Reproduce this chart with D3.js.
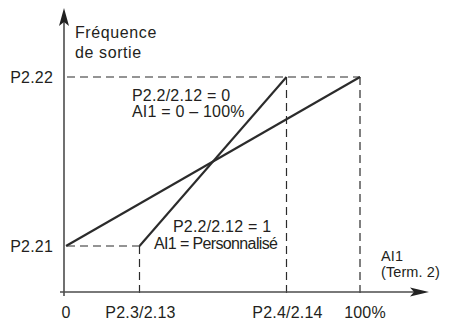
<!DOCTYPE html>
<html>
<head>
<meta charset="utf-8">
<script src="https://cdn.jsdelivr.net/npm/d3@7"></script>
<style>
  html, body { margin: 0; padding: 0; background: #fff; }
  svg { display: block; }
  text { font-family: "Liberation Sans", Arial, Helvetica, sans-serif; fill: #231f20; }
</style>
</head>
<body>
<svg id="chart" width="450" height="327"></svg>
<script>
// Input AI1 in percent; output frequency as percent of the P2.21..P2.22 span
const xTickValues = [0, 25, 75, 100];
const xTickLabels = ["0", "P2.3/2.13", "P2.4/2.14", "100%"];
const yTickValues = [0, 100];
const yTickLabels = ["P2.21", "P2.22"];

// P2.2/2.12 = 0 : AI1 = 0 – 100%
const curveStandard = [ { x: 0, y: 0 }, { x: 100, y: 100 } ];
// P2.2/2.12 = 1 : custom range
const curveCustom = [ { x: 25, y: 0 }, { x: 75, y: 100 } ];

const svg = d3.select("#chart");

const x = d3.scaleLinear().domain([0, 100]).range([66, 360]);
const y = d3.scaleLinear().domain([0, 100]).range([246, 77]);

const axisX0 = 64, axisY0 = 292;
const ink = "#2b2b2b";
const axisInk = "#4d4d4d";

// Dashed reference lines
const dash = svg.append("g")
  .attr("stroke", ink)
  .attr("stroke-width", 1.2)
  .attr("stroke-dasharray", "8,5")
  .attr("fill", "none");
dash.append("line").attr("x1", x(0) + 1).attr("x2", x(100)).attr("y1", y(100)).attr("y2", y(100));
dash.append("line").attr("x1", x(0) + 1).attr("x2", x(25)).attr("y1", y(0)).attr("y2", y(0));
dash.append("line").attr("x1", x(25)).attr("x2", x(25)).attr("y1", y(0)).attr("y2", axisY0 + 2);
dash.append("line").attr("x1", x(75)).attr("x2", x(75)).attr("y1", y(100)).attr("y2", axisY0 + 2);
dash.append("line").attr("x1", x(100)).attr("x2", x(100)).attr("y1", y(100)).attr("y2", axisY0 + 2);

// Axes
const axes = svg.append("g").attr("stroke", axisInk).attr("stroke-width", 1.6).attr("fill", "none");
axes.append("line").attr("x1", axisX0).attr("x2", axisX0).attr("y1", axisY0 + 4).attr("y2", 18);
axes.append("line").attr("x1", axisX0 - 4).attr("x2", 418).attr("y1", axisY0).attr("y2", axisY0);

// Notched arrowheads
svg.append("path")
  .attr("d", `M${axisX0},8 L${axisX0 + 5},26 L${axisX0},22 L${axisX0 - 5},26 Z`)
  .attr("fill", "#222");
svg.append("path")
  .attr("d", `M429,${axisY0} L410,${axisY0 - 4.5} L414,${axisY0} L410,${axisY0 + 4.5} Z`)
  .attr("fill", "#222");

// Transfer curves
const line = d3.line().x(d => x(d.x)).y(d => y(d.y));
svg.append("path").datum(curveStandard).attr("d", line)
  .attr("fill", "none").attr("stroke", ink).attr("stroke-width", 2.1);
svg.append("path").datum(curveCustom).attr("d", line)
  .attr("fill", "none").attr("stroke", ink).attr("stroke-width", 2.1);

const fontSize = 16;
const spacing = 0.2;

// X tick labels
svg.append("g").selectAll("text")
  .data(xTickValues)
  .join("text")
  .attr("x", (d, i) => x(d) + (i === 0 ? 0 : i === 3 ? 5 : 1))
  .attr("y", 318)
  .attr("text-anchor", "middle")
  .attr("font-size", fontSize)
  .attr("letter-spacing", spacing)
  .text((d, i) => xTickLabels[i]);

// Y tick labels
svg.append("g").selectAll("text")
  .data(yTickValues)
  .join("text")
  .attr("x", 53)
  .attr("y", d => y(d) + 5.5)
  .attr("text-anchor", "end")
  .attr("font-size", fontSize)
  .attr("letter-spacing", spacing)
  .text((d, i) => yTickLabels[i]);

// Axis titles
function label(lines, x0, y0, lineHeight, size, ls) {
  const t = svg.append("text").attr("font-size", size).attr("letter-spacing", ls);
  lines.forEach((s, i) => {
    t.append("tspan").attr("x", x0).attr("y", y0 + i * lineHeight).text(s);
  });
  return t;
}
label(["Fréquence", "de sortie"], 75, 38, 20, fontSize, 0.6);
label(["AI1", "(Term. 2)"], 381, 261, 16, 14.5, 0.1);

// Curve annotations
label(["P2.2/2.12 = 0", "AI1 = 0 – 100%"], 132, 101, 16, fontSize, spacing);
svg.append("text")
  .attr("x", 173).attr("y", 232)
  .attr("font-size", fontSize).attr("letter-spacing", spacing)
  .text("P2.2/2.12 = 1");
svg.append("text")
  .attr("x", 154).attr("y", 249)
  .attr("font-size", fontSize)
  .attr("textLength", 124).attr("lengthAdjust", "spacing")
  .text("AI1 = Personnalisé");
</script>
</body>
</html>
